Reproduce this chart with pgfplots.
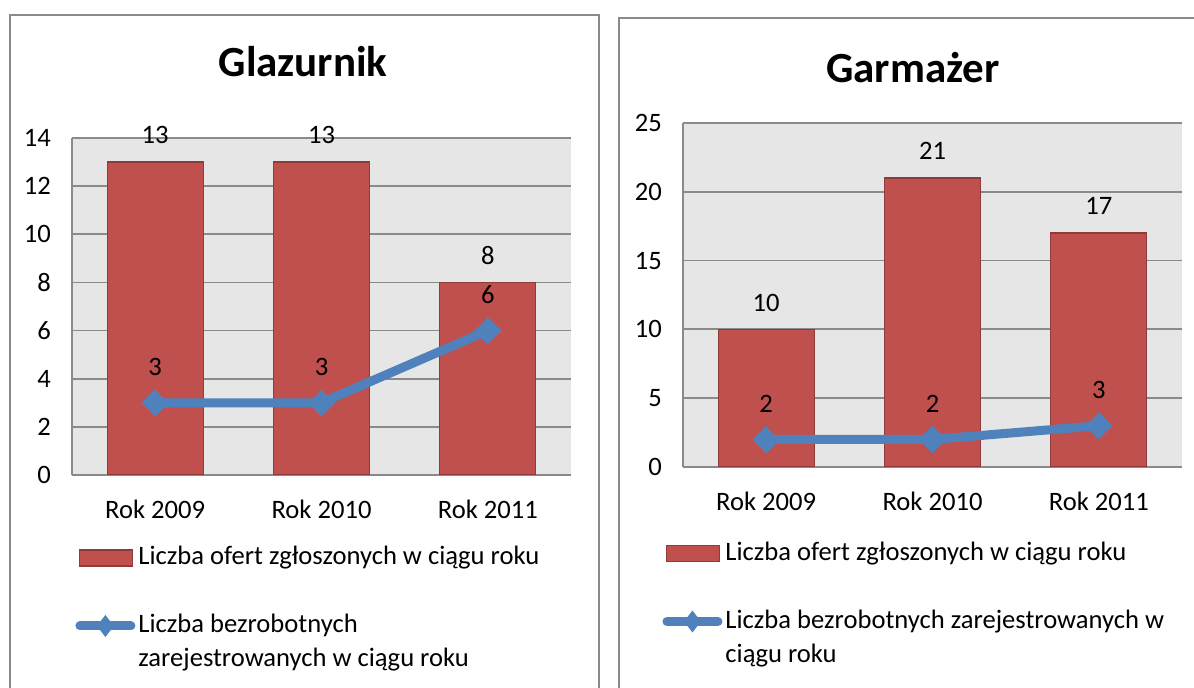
\documentclass[border=0pt]{standalone}
\usepackage{fontspec}
\setmainfont{Carlito}
\usepackage{pgfplots}
\pgfplotsset{compat=1.18}

\definecolor{barred}{HTML}{C0504D}
\definecolor{bardark}{HTML}{8E3B39}
\definecolor{lineblue}{HTML}{4F81BD}
\definecolor{plotbg}{HTML}{E6E6E6}
\definecolor{gridgray}{HTML}{8A8A8A}

\newcommand{\lbl}{\fontsize{13.3pt}{16pt}\selectfont}

\pgfplotsset{
  panel/.style={
    scale only axis,
    anchor=south west,
    width=249.5pt,
    xmin=-0.5, xmax=2.5,
    xtick={0,1,2},
    xticklabels={Rok 2009, Rok 2010, Rok 2011},
    axis x line*=bottom,
    axis y line*=left,
    axis line style={draw=gridgray, line width=0.9pt, -},
    axis background/.style={fill=plotbg},
    ymajorgrids=true,
    grid style={draw=gridgray, line width=0.9pt},
    major tick length=0pt,
    tick label style={font=\lbl, text=black},
    /pgf/number format/assume math mode=true,
    yticklabel style={xshift=-7pt},
    xticklabel style={yshift=-9pt},
    legend cell align=left,
    legend style={draw=none, fill=none, inner sep=0pt, font=\lbl,
      row sep=4.5pt, column sep=1.5pt,
      nodes={inner sep=0pt, text height=9.5pt, text depth=3pt}},
  },
  barser/.style={
    ybar, bar width=48pt, bar shift=0pt,
    fill=barred, draw=bardark, line width=0.6pt,
    nodes near coords,
    nodes near coords style={font=\lbl, text=black, anchor=south, inner sep=0pt, yshift=8.8pt},
    legend image code/.code={\draw[fill=barred, draw=bardark, line width=0.6pt] (2pt,-4pt) rectangle (28.5pt,4pt);},
  },
  lineser/.style={
    color=lineblue, line width=4.5pt,
    mark=square*, mark size=4.6pt,
    mark options={rotate=45, line width=0pt, fill=lineblue, draw=lineblue},
    nodes near coords,
    nodes near coords style={font=\lbl, text=black, anchor=south, inner sep=0pt, yshift=13.3pt},
    legend image code/.code={
      \draw[lineblue, line width=4.5pt, line cap=round] (2.25pt,0pt) -- (27.75pt,0pt);
      \path[fill=lineblue, draw=none] (15pt,-5.5pt) -- (19.25pt,0pt) -- (15pt,5.5pt) -- (10.75pt,0pt) -- cycle;},
  },
}

\begin{document}
\begin{tikzpicture}
\path[use as bounding box] (0,0) rectangle (597pt,344pt);
\begin{scope}
\clip (0,0) rectangle (597pt,344pt);
\draw[gridgray, line width=1pt] (5pt,-10pt) -- (5pt,336.5pt) -- (299.5pt,336.5pt) -- (299.5pt,-10pt);
\draw[gridgray, line width=1pt] (309.5pt,-10pt) -- (309.5pt,335pt) -- (610pt,335pt);
\end{scope}

\node[font=\fontsize{21.5pt}{25pt}\selectfont\bfseries] at (151.5pt,313pt) {Glazurnik};
\node[font=\fontsize{21.5pt}{25pt}\selectfont\bfseries] at (456.5pt,310pt) {Garmażer};

% Glazurnik
\begin{axis}[panel,
  at={(36pt,106.5pt)},
  height=168.5pt,
  ymin=0, ymax=14, ytick={0,2,...,14},
  legend style={at={(0.006,-0.208)}, anchor=north west},
]
\addplot[barser] coordinates {(0,13) (1,13) (2,8)};
\addlegendentry{Liczba ofert zgłoszonych w ciągu roku}
\addlegendimage{empty legend}
\addlegendentry{}
\addplot[lineser] coordinates {(0,3) (1,3) (2,6)};
\addlegendentry{Liczba bezrobotnych}
\addlegendimage{empty legend}
\addlegendentry{zarejestrowanych w ciągu roku}
\end{axis}

% Garmazer
\begin{axis}[panel,
  at={(341.5pt,110.5pt)},
  height=172pt,
  ymin=0, ymax=25, ytick={0,5,...,25},
  legend style={at={(-0.042,-0.214)}, anchor=north west},
]
\addplot[barser] coordinates {(0,10) (1,21) (2,17)};
\addlegendentry{Liczba ofert zgłoszonych w ciągu roku}
\addlegendimage{empty legend}
\addlegendentry{}
\addplot[lineser] coordinates {(0,2) (1,2) (2,3)};
\addlegendentry{Liczba bezrobotnych zarejestrowanych w}
\addlegendimage{empty legend}
\addlegendentry{ciągu roku}
\end{axis}
\end{tikzpicture}
\end{document}
